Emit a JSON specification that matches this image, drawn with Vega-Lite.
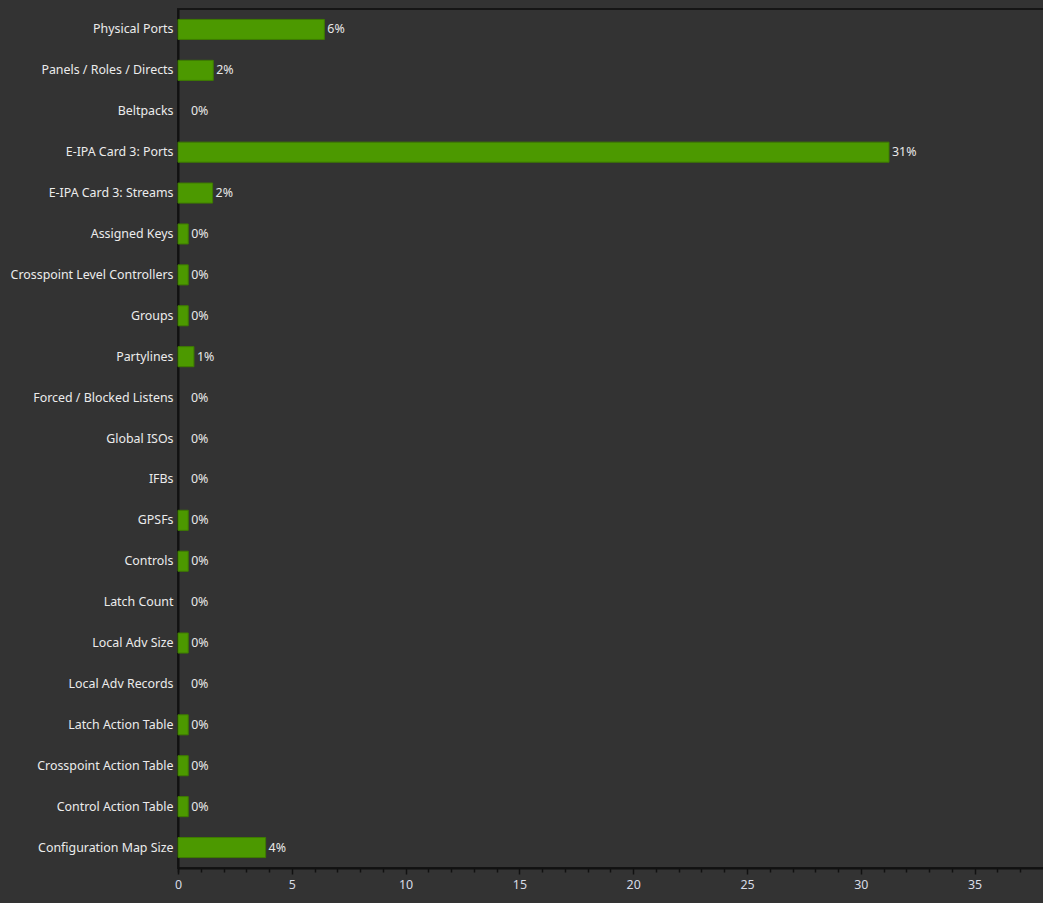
{
  "$schema": "https://vega.github.io/schema/vega-lite/v6.json",
  "width": 866,
  "height": 859,
  "autosize": {"type": "none"},
  "padding": {"left": 178, "top": 9, "right": 0, "bottom": 35},
  "background": "#333333",
  "config": {
    "view": {"stroke": "#161616", "strokeWidth": 2},
    "font": "Noto Sans"
  },
  "data": {
    "values": [
      {"item": "Physical Ports", "value": 6.43, "label": "6%"},
      {"item": "Panels / Roles / Directs", "value": 1.55, "label": "2%"},
      {"item": "Beltpacks", "value": 0, "label": "0%"},
      {"item": "E-IPA Card 3: Ports", "value": 31.24, "label": "31%"},
      {"item": "E-IPA Card 3: Streams", "value": 1.52, "label": "2%"},
      {"item": "Assigned Keys", "value": 0.45, "label": "0%"},
      {"item": "Crosspoint Level Controllers", "value": 0.45, "label": "0%"},
      {"item": "Groups", "value": 0.45, "label": "0%"},
      {"item": "Partylines", "value": 0.7, "label": "1%"},
      {"item": "Forced / Blocked Listens", "value": 0, "label": "0%"},
      {"item": "Global ISOs", "value": 0, "label": "0%"},
      {"item": "IFBs", "value": 0, "label": "0%"},
      {"item": "GPSFs", "value": 0.45, "label": "0%"},
      {"item": "Controls", "value": 0.45, "label": "0%"},
      {"item": "Latch Count", "value": 0, "label": "0%"},
      {"item": "Local Adv Size", "value": 0.45, "label": "0%"},
      {"item": "Local Adv Records", "value": 0, "label": "0%"},
      {"item": "Latch Action Table", "value": 0.45, "label": "0%"},
      {"item": "Crosspoint Action Table", "value": 0.45, "label": "0%"},
      {"item": "Control Action Table", "value": 0.45, "label": "0%"},
      {"item": "Configuration Map Size", "value": 3.85, "label": "4%"}
    ]
  },
  "resolve": {"axis": {"x": "independent"}},
  "encoding": {
    "y": {
      "field": "item",
      "type": "nominal",
      "sort": null,
      "scale": {"paddingInner": 0.51, "paddingOuter": 0.255},
      "axis": {
        "title": null,
        "ticks": false,
        "domain": true,
        "domainColor": "#111111",
        "domainWidth": 2,
        "labelColor": "#ececec",
        "labelFontSize": 12.4,
        "labelPadding": 5,
        "labelFont": "Noto Sans"
      }
    }
  },
  "layer": [
    {
      "mark": {"type": "bar", "fill": "#4c9900", "stroke": "#3e7c00", "strokeWidth": 1},
      "encoding": {
        "x": {
          "field": "value",
          "type": "quantitative",
          "scale": {"domain": [0, 38.05], "nice": false, "zero": true},
          "axis": null
        },
        "strokeOpacity": {"condition": {"test": "datum.value == 0", "value": 0}, "value": 1}
      }
    },
    {
      "transform": [{"filter": "datum.value > 0"}],
      "mark": {"type": "text", "align": "left", "baseline": "middle", "dx": 3, "fontSize": 12.4, "color": "#e8e8e8", "font": "Noto Sans"},
      "encoding": {
        "x": {"field": "value", "type": "quantitative", "axis": null},
        "text": {"field": "label"}
      }
    },
    {
      "transform": [{"filter": "datum.value == 0"}],
      "mark": {"type": "text", "align": "left", "baseline": "middle", "dx": 13, "fontSize": 12.4, "color": "#e8e8e8", "font": "Noto Sans"},
      "encoding": {
        "x": {"field": "value", "type": "quantitative", "axis": null},
        "text": {"field": "label"}
      }
    },
    {
      "mark": {"type": "rule", "opacity": 0},
      "encoding": {
        "x": {
          "field": "value",
          "type": "quantitative",
          "axis": {
            "title": null,
            "grid": false,
            "orient": "bottom",
            "values": [0, 1, 2, 3, 4, 6, 7, 8, 9, 11, 12, 13, 14, 16, 17, 18, 19, 21, 22, 23, 24, 26, 27, 28, 29, 31, 32, 33, 34, 36, 37],
            "labels": false,
            "domain": false,
            "tickColor": "#111111",
            "tickSize": 4,
            "tickWidth": 1.5
          }
        },
        "y": {"value": 0}
      }
    },
    {
      "mark": {"type": "rule", "opacity": 0},
      "encoding": {
        "x": {
          "field": "value",
          "type": "quantitative",
          "axis": {
            "title": null,
            "grid": false,
            "orient": "bottom",
            "values": [0, 5, 10, 15, 20, 25, 30, 35],
            "domain": true,
            "domainColor": "#111111",
            "domainWidth": 2,
            "tickColor": "#111111",
            "tickSize": 6,
            "tickWidth": 1.5,
            "labelColor": "#d8dce6",
            "labelFontSize": 12.4,
            "labelPadding": 4,
            "labelFlush": false,
            "labelFont": "Noto Sans"
          }
        },
        "y": {"value": 0}
      }
    }
  ]
}
